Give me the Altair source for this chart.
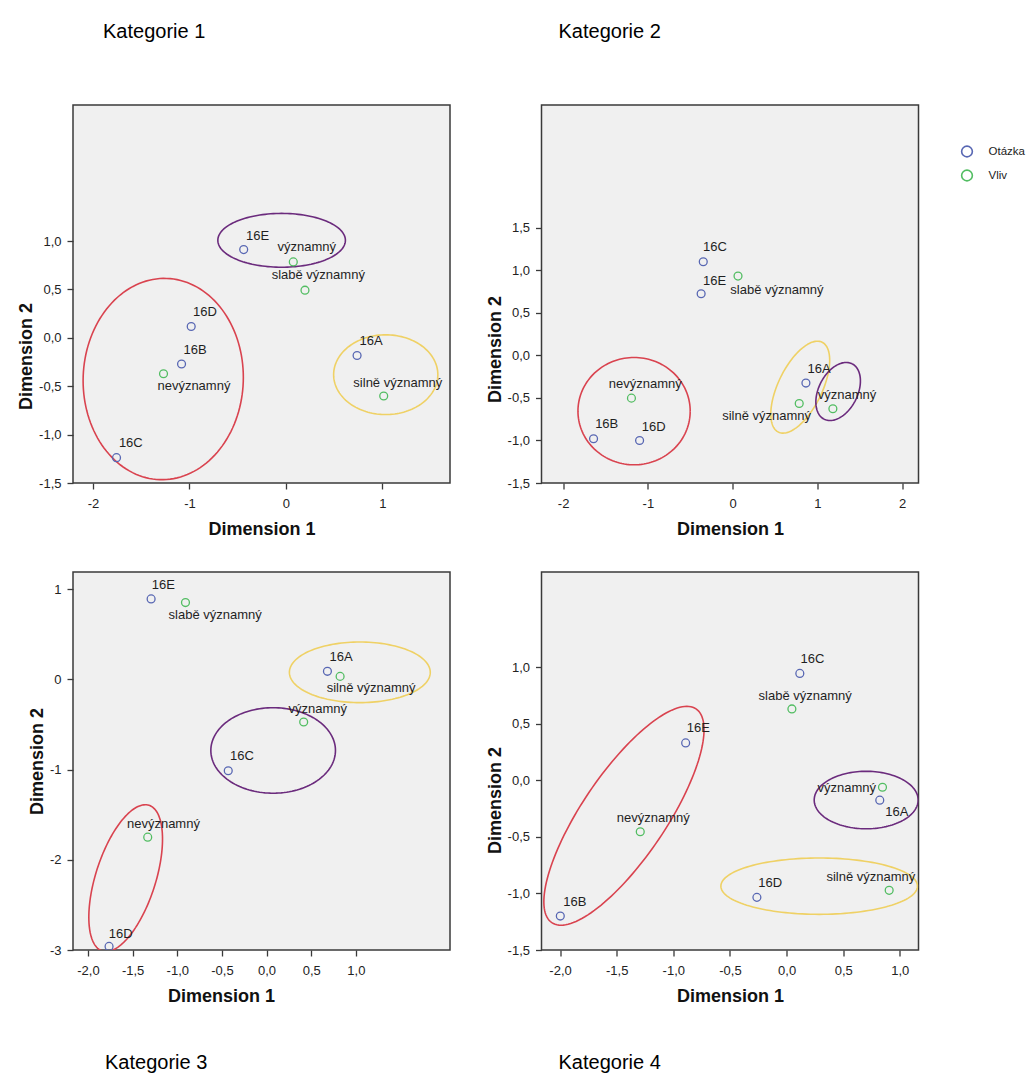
import numpy as np
import pandas as pd
import altair as alt

FONT = "Liberation Sans"
BLUE = "#5867b3"
GREEN = "#52bd62"
RED = "#d9434f"
PURPLE = "#6b2b7d"
YELLOW = "#efd165"

names = ["16A", "16B", "16C", "16D", "16E",
         "nevýznamný", "slabě významný", "významný", "silně významný"]
groups = ["Otázka"] * 5 + ["Vliv"] * 4
ell_keys = ["nevýznamný", "významný", "silně významný"]

# ---------------- Kategorie 1 ----------------
k1_x = [0.737, -1.082, -1.756, -0.982, -0.438, -1.269, 0.197, 0.076, 1.013]
k1_y = [-0.183, -0.271, -1.238, 0.117, 0.911, -0.371, 0.492, 0.784, -0.601]
k1_lx = [0.882, -0.941, -1.608, -0.840, -0.294, -0.954, 0.335, 0.215, 1.159]
k1_ly = [-0.038, -0.124, -1.087, 0.265, 1.056, -0.502, 0.647, 0.942, -0.467]
k1_ekey = ["významný", "nevýznamný", "silně významný"]
k1_ecx = [-0.045, -1.272, 1.034]
k1_ecy = [1.007, -0.426, -0.381]
k1_ea = [0.661, 1.04, 0.54]
k1_eb = [0.278, 0.83, 0.412]
k1_erot = [0, 88, 0]
k1_xdom = [-2.207, 1.70]
k1_ydom = [-1.5, 2.405]
k1_xticks = [-2, -1, 0, 1]
k1_yticks = [-1.5, -1.0, -0.5, 0.0, 0.5, 1.0]

# ---------------- Kategorie 2 ----------------
k2_x = [0.864, -1.641, -0.347, -1.098, -0.372, -1.194, 0.063, 1.182, 0.785]
k2_y = [-0.325, -0.980, 1.102, -1.000, 0.725, -0.502, 0.933, -0.627, -0.565]
k2_lx = [1.019, -1.486, -0.209, -0.931, -0.213, -1.031, 0.522, 1.349, 0.401]
k2_ly = [-0.161, -0.808, 1.271, -0.843, 0.878, -0.337, 0.773, -0.467, -0.710]
k2_ekey = ["nevýznamný", "silně významný", "významný"]
k2_ecx = [-1.163, 0.797, 1.244]
k2_ecy = [-0.655, -0.373, -0.424]
k2_ea = [0.662, 0.588, 0.365]
k2_eb = [0.631, 0.259, 0.229]
k2_erot = [0, 64, 63]
k2_xdom = [-2.255, 2.192]
k2_ydom = [-1.5, 2.945]
k2_xticks = [-2, -1, 0, 1, 2]
k2_yticks = [-1.5, -1.0, -0.5, 0.0, 0.5, 1.0, 1.5]

# ---------------- Kategorie 3 ----------------
k3_x = [0.682, None, -0.429, -1.764, -1.293, -1.331, -0.908, 0.416, 0.824]
k3_y = [0.089, None, -1.013, -2.96, 0.892, -1.749, 0.851, -0.473, 0.033]
k3_lx = [0.835, None, -0.276, -1.634, -1.155, -1.155, -0.575, 0.574, 1.172]
k3_ly = [0.249, None, -0.855, -2.822, 1.051, -1.602, 0.718, -0.325, -0.095]
k3_ekey = ["silně významný", "významný", "nevýznamný"]
k3_ecx = [1.045, 0.074, -1.578]
k3_ecy = [0.078, -0.788, -2.204]
k3_ea = [0.789, 0.698, 0.849]
k3_eb = [0.336, 0.474, 0.335]
k3_erot = [0, 0, 72]
k3_xdom = [-2.168, 2.055]
k3_ydom = [-3.0, 1.19]
k3_xticks = [-2.0, -1.5, -1.0, -0.5, 0.0, 0.5, 1.0]
k3_yticks = [-3, -2, -1, 0, 1]

# ---------------- Kategorie 4 ----------------
k4_x = [0.823, -1.998, 0.117, -0.262, -0.891, -1.292, 0.047, 0.847, 0.906]
k4_y = [-0.176, -1.200, 0.944, -1.035, 0.330, -0.455, 0.630, -0.062, -0.973]
k4_lx = [0.974, -1.869, 0.229, -0.145, -0.780, -1.177, 0.164, 0.532, 0.744]
k4_ly = [-0.282, -1.077, 1.071, -0.909, 0.459, -0.335, 0.748, -0.071, -0.856]
k4_ekey = ["nevýznamný", "významný", "silně významný"]
k4_ecx = [-1.436, 0.703, 0.288]
k4_ecy = [-0.314, -0.175, -0.936]
k4_ea = [1.139, 0.459, 0.868]
k4_eb = [0.371, 0.254, 0.249]
k4_erot = [56, 0, 0]
k4_xdom = [-2.164, 1.165]
k4_ydom = [-1.5, 1.84]
k4_xticks = [-2.0, -1.5, -1.0, -0.5, 0.0, 0.5, 1.0]
k4_yticks = [-1.5, -1.0, -0.5, 0.0, 0.5, 1.0]

DEC = "(datum.value < 0 ? '-' : '') + replace(format(abs(datum.value), '.1f'), '.', ',')"
INT = "(datum.value < 0 ? '-' : '') + format(abs(datum.value), 'd')"


def points_df(xs, ys, lxs, lys):
    rows = []
    for n, g, x, y, lx, ly in zip(names, groups, xs, ys, lxs, lys):
        if x is None:
            continue
        rows.append({"name": n, "grp": g, "x": x, "y": y, "lx": lx, "ly": ly})
    return pd.DataFrame(rows)


def ellipse_df(keys, cx, cy, a, b, rot):
    rows = []
    t = np.linspace(0, 2 * np.pi, 145)
    for i, (k, x0, y0, aa, bb, r) in enumerate(zip(keys, cx, cy, a, b, rot)):
        phi = np.deg2rad(r)
        u = aa * np.cos(t)
        v = bb * np.sin(t)
        xs = x0 + u * np.cos(phi) - v * np.sin(phi)
        ys = y0 + u * np.sin(phi) + v * np.cos(phi)
        for j in range(len(t)):
            rows.append({"eid": i, "key": k, "ord": j, "x": xs[j], "y": ys[j]})
    return pd.DataFrame(rows)


def panel(title, t_orient, t_dx, t_offset, pts, ell, xdom, ydom, xt, yt,
          xexpr, yexpr, w, h, legend, x_title_x=None, y_title_y=None):
    xaxis_kw = dict(values=xt, labelExpr=xexpr, title="Dimension 1")
    if x_title_x is not None:
        xaxis_kw["titleX"] = x_title_x
    yaxis_kw = dict(values=yt, labelExpr=yexpr, title="Dimension 2")
    if y_title_y is not None:
        yaxis_kw["titleY"] = y_title_y
    xenc = alt.X("x:Q", scale=alt.Scale(domain=xdom, nice=False, zero=False),
                 axis=alt.Axis(**xaxis_kw))
    yenc = alt.Y("y:Q", scale=alt.Scale(domain=ydom, nice=False, zero=False),
                 axis=alt.Axis(**yaxis_kw))
    lines = alt.Chart(ell).mark_line(strokeWidth=1.6, clip=True).encode(
        x=xenc, y=yenc, detail="eid:N", order="ord:Q",
        stroke=alt.Stroke("key:N", scale=alt.Scale(domain=ell_keys, range=[RED, PURPLE, YELLOW]),
                          legend=None),
    )
    if legend:
        leg = alt.Legend(title=None, orient="none", legendX=419, legendY=40,
                         symbolType="circle", symbolSize=115, symbolStrokeWidth=1.6,
                         labelFont=FONT, labelFontSize=11.5, labelColor="#222",
                         rowPadding=5, labelOffset=15, padding=0)
    else:
        leg = None
    dots = alt.Chart(pts).mark_point(shape="circle", size=62, filled=False,
                                     strokeWidth=1.3, opacity=1, clip=True).encode(
        x=alt.X("x:Q"), y=alt.Y("y:Q"),
        color=alt.Color("grp:N", scale=alt.Scale(domain=["Otázka", "Vliv"], range=[BLUE, GREEN]),
                        legend=leg),
    )
    texts = alt.Chart(pts).mark_text(font=FONT, fontSize=13, color="#1f1f1f",
                                     align="center", baseline="middle").encode(
        x=alt.X("lx:Q"), y=alt.Y("ly:Q"), text="name:N"
    )
    return alt.layer(lines, dots, texts).resolve_scale(
        x="shared", y="shared"
    ).properties(
        width=w, height=h,
        title=alt.TitleParams(text=title, orient=t_orient, anchor="start", frame="group",
                              dx=t_dx, offset=t_offset, font=FONT, fontSize=20,
                              fontWeight="normal", color="#000000",
                              baseline="alphabetic" if t_orient == "top" else "top"),
    )


p1 = panel("Kategorie 1", "top", 30, 47, points_df(k1_x, k1_y, k1_lx, k1_ly),
           ellipse_df(k1_ekey, k1_ecx, k1_ecy, k1_ea, k1_eb, k1_erot),
           k1_xdom, k1_ydom, k1_xticks, k1_yticks, INT, DEC, 377, 378, False,
           y_title_y=251)
p2 = panel("Kategorie 2", "top", 17, 47, points_df(k2_x, k2_y, k2_lx, k2_ly),
           ellipse_df(k2_ekey, k2_ecx, k2_ecy, k2_ea, k2_eb, k2_erot),
           k2_xdom, k2_ydom, k2_xticks, k2_yticks, INT, DEC, 377, 378, True,
           y_title_y=244)
p3 = panel("Kategorie 3", "bottom", 32, 48, points_df(k3_x, k3_y, k3_lx, k3_ly),
           ellipse_df(k3_ekey, k3_ecx, k3_ecy, k3_ea, k3_eb, k3_erot),
           k3_xdom, k3_ydom, k3_xticks, k3_yticks, DEC, INT, 377, 378, False,
           x_title_x=148)
p4 = panel("Kategorie 4", "bottom", 17, 48, points_df(k4_x, k4_y, k4_lx, k4_ly),
           ellipse_df(k4_ekey, k4_ecx, k4_ecy, k4_ea, k4_eb, k4_erot),
           k4_xdom, k4_ydom, k4_xticks, k4_yticks, DEC, DEC, 377, 378, False,
           y_title_y=228)

chart = alt.concat(
    p1, p2, p3, p4, columns=2, spacing={"row": 89, "column": 91.5}, bounds="flush"
).resolve_scale(
    color="independent", x="independent", y="independent", stroke="independent"
).properties(
    padding={"left": 8, "top": 13, "right": 0, "bottom": 0},
    background="white",
).configure_view(
    fill="#f0f0f0", stroke="#3a3a3a", strokeWidth=1.5
).configure_axis(
    grid=False, domain=False, tickColor="#3a3a3a", tickSize=6, tickWidth=1.3,
    labelFont=FONT, labelFontSize=13, labelColor="#222222",
    titleFont=FONT, titleFontSize=18, titleFontWeight="bold", titleColor="#111111",
).configure_axisX(
    labelPadding=8, titlePadding=10,
).configure_axisY(
    labelPadding=6, titlePadding=3,
)

chart.save("out.html", embed_options={"renderer": "svg", "actions": False})
